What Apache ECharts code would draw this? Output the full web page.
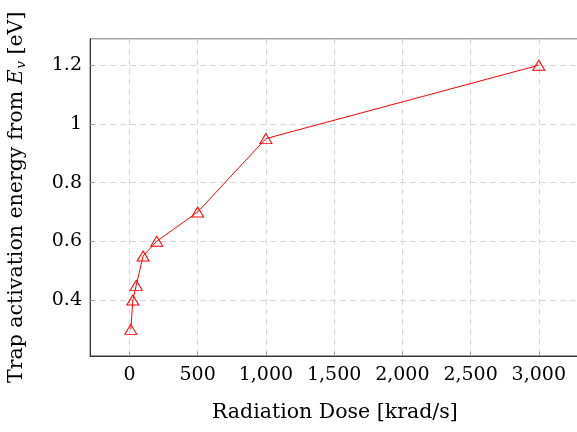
<!DOCTYPE html>
<html><head><meta charset="utf-8">
<script src="https://cdn.jsdelivr.net/npm/echarts@6/dist/echarts.min.js"></script>
<style>html,body{margin:0;padding:0;background:#fff}#c{width:577px;height:432px}</style>
</head><body><div id="c"></div>
<script>
const doses = [10, 25, 50, 100, 200, 500, 1000, 3000];
const energies = [0.3, 0.4, 0.45, 0.55, 0.6, 0.7, 0.95, 1.2];
const xTicks = [0, 500, 1000, 1500, 2000, 2500, 3000];
const yTicks = [0.4, 0.6, 0.8, 1.0, 1.2];
const xRange = [-289, 3299];
const yRange = [0.21, 1.29];

const FONT = 'DejaVu Serif';
const chart = echarts.init(document.getElementById('c'), null, {renderer: 'canvas'});
const fmtX = v => v.toLocaleString('en-US');
const fmtY = v => (Math.round(v * 10) / 10).toString();
chart.setOption({
  animation: false,
  grid: {left: 90, top: 38.8, width: 489.6, height: 317, show: true, borderColor: '#777', borderWidth: 1,
         containLabel: false, outerBoundsMode: 'none'},
  xAxis: {
    type: 'value', min: xRange[0], max: xRange[1],
    name: 'Radiation Dose [krad/s]', nameLocation: 'middle', nameGap: 46,
    nameTextStyle: {fontFamily: FONT, fontSize: 20.5, color: '#000'},
    axisLine: {show: true, onZero: false, lineStyle: {color: '#333', width: 1}},
    axisTick: {show: true, inside: true, length: 4, customValues: xTicks, lineStyle: {color: '#999'}},
    axisLabel: {customValues: xTicks, formatter: fmtX, fontFamily: FONT, fontSize: 19, color: '#000', margin: 10},
    splitLine: {show: true, lineStyle: {color: '#d6d6d6', type: [6, 4], width: 1}}
  },
  yAxis: {
    type: 'value', min: yRange[0], max: yRange[1],
    name: '{n|Trap activation energy from }{i|E}{s|v}{n| [eV]}', nameLocation: 'middle', nameGap: 62,
    nameTextStyle: {fontFamily: FONT, fontSize: 20.5, color: '#000',
      rich: {n: {fontFamily: FONT, fontSize: 20.5}, i: {fontFamily: FONT, fontSize: 20.5, fontStyle: 'italic'},
             s: {fontFamily: FONT, fontSize: 13, fontStyle: 'italic', padding: [9, 0, 0, 1]}}},
    axisLine: {show: true, onZero: false, lineStyle: {color: '#333', width: 1}},
    axisTick: {show: true, inside: true, length: 4, customValues: yTicks, lineStyle: {color: '#999'}},
    axisLabel: {customValues: yTicks, formatter: fmtY, fontFamily: FONT, fontSize: 19, color: '#000', margin: 8},
    splitLine: {show: true, lineStyle: {color: '#d6d6d6', type: [6, 4], width: 1}}
  },
  series: [{
    type: 'line',
    data: doses.map((d, i) => [d, energies[i]]),
    symbol: 'triangle', symbolSize: [12, 10],
    lineStyle: {color: '#ff0000', width: 1},
    itemStyle: {color: 'rgba(255,255,255,0)', borderColor: '#ff0000', borderWidth: 1},
    z: 5
  }]
});
</script></body></html>
